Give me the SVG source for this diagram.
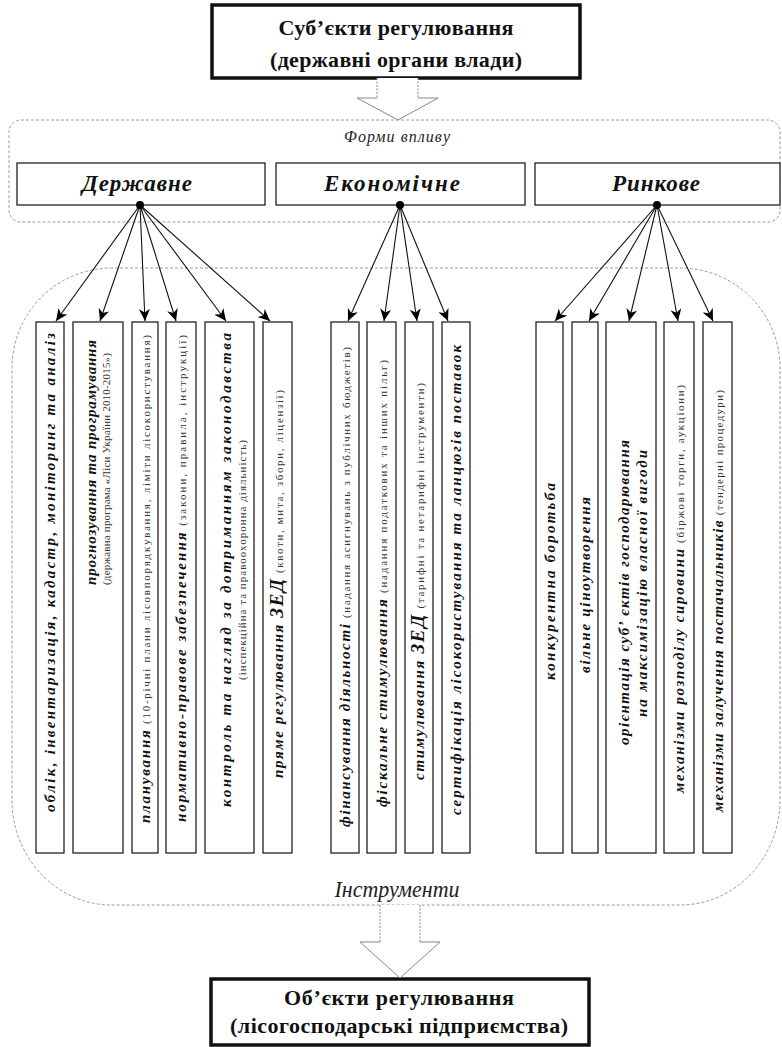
<svg xmlns="http://www.w3.org/2000/svg" width="782" height="1047" viewBox="0 0 782 1047">
<style>
.thick{fill:#fff;stroke:#111;stroke-width:3.5}
.box{fill:#fff;stroke:#222;stroke-width:1.3}
.form{fill:#fff;stroke:#222;stroke-width:1.3}
.region{fill:none;stroke:#9a9a9a;stroke-width:1;stroke-dasharray:3 2}
.hollow{fill:#fff;stroke:none}
.hs{fill:none;stroke:#888;stroke-width:1;stroke-dasharray:2 1.5}
.hh{fill:none;stroke:#888;stroke-width:1}
.conn{stroke:#111;stroke-width:1.1;fill:none}
.dot{fill:#000}
.t{font-family:"Liberation Serif","Times New Roman",serif;fill:#111}
.bi{font-weight:bold;font-style:italic;font-size:15px}
.rg{font-weight:normal;font-style:normal;font-size:11px;fill:#333}
.zed{font-weight:bold;font-style:italic;font-size:19px}
.head{font-family:"Liberation Serif","Times New Roman",serif;font-weight:bold;font-size:22px;fill:#111}
.form-t{font-family:"Liberation Serif","Times New Roman",serif;font-weight:bold;font-style:italic;font-size:23px;fill:#111}
.lab{font-family:"Liberation Serif","Times New Roman",serif;font-style:italic;fill:#222}
</style>
<defs>
<marker id="ah" markerUnits="userSpaceOnUse" markerWidth="13" markerHeight="11" refX="12" refY="5.5" orient="auto">
<path d="M0,0 L12,5.5 L0,11 L3.5,5.5 Z" fill="#000"/>
</marker>
</defs>

<!-- regions -->
<g id="forms-region">
<rect class="region" x="9" y="120" width="771" height="102" rx="12" ry="12"/>
<text class="lab" x="397" y="142" font-size="16" text-anchor="middle" textLength="106" lengthAdjust="spacing">Форми  впливу</text>
</g>
<g id="instruments-region">
<path class="region" d="M110,268 H680 A100,100 0 0 1 780,368 V800 A100,105 0 0 1 680,905 H110 A100,105 0 0 1 12,800 V368 A100,100 0 0 1 110,268 Z"/>
<text class="lab" x="397" y="897" font-size="23" text-anchor="middle" textLength="125" lengthAdjust="spacingAndGlyphs">Інструменти</text>
</g>

<!-- subject / object -->
<g id="subjects">
<rect class="thick" x="212" y="5" width="368" height="73"/>
<text class="head" x="396" y="35" text-anchor="middle" textLength="235" lengthAdjust="spacing">Суб’єкти регулювання</text>
<text class="head" x="396" y="67" text-anchor="middle" textLength="252" lengthAdjust="spacing">(державні органи влади)</text>
</g>
<g id="objects">
<rect class="thick" x="211" y="979" width="378" height="66"/>
<text class="head" x="399" y="1005" text-anchor="middle" textLength="230" lengthAdjust="spacing">Об’єкти регулювання</text>
<text class="head" x="399" y="1033" text-anchor="middle" textLength="338" lengthAdjust="spacing">(лісогосподарські підприємства)</text>
</g>

<!-- forms -->
<g id="f-derzh">
<rect class="form" x="17" y="163" width="248" height="42"/>
<text class="form-t" x="137" y="191" text-anchor="middle" textLength="110" lengthAdjust="spacing">Державне</text>
</g>
<g id="f-econ">
<rect class="form" x="276" y="163" width="249" height="42"/>
<text class="form-t" x="392" y="191" text-anchor="middle" textLength="136" lengthAdjust="spacing">Економічне</text>
</g>
<g id="f-market">
<rect class="form" x="535" y="163" width="245" height="42"/>
<text class="form-t" x="656" y="191" text-anchor="middle" textLength="88" lengthAdjust="spacing">Ринкове</text>
</g>

<!-- instruments -->
<g id="i1">
<rect class="box" x="36" y="322" width="28" height="531"/>
<text class="t bi" transform="translate(55,572.5) rotate(-90)" text-anchor="middle" textLength="479" lengthAdjust="spacing">облік, інвентаризація,  кадастр, моніторинг  та аналіз</text>
</g>
<g id="i2">
<rect class="box" x="73" y="322" width="50" height="531"/>
<text class="t bi" transform="translate(96,585) rotate(-90)" textLength="245" lengthAdjust="spacing">прогнозування та програмування</text>
<text class="t rg" transform="translate(110,585) rotate(-90)" textLength="232" lengthAdjust="spacing">(державна програма «Ліси України 2010-2015»)</text>
</g>
<g id="i3">
<rect class="box" x="132" y="322" width="26" height="531"/>
<text class="t" transform="translate(150,579) rotate(-90)" text-anchor="middle" textLength="488" lengthAdjust="spacing"><tspan class="bi">планування</tspan><tspan class="rg">  (10-річні плани лісовпорядкування, ліміти лісокористування)</tspan></text>
</g>
<g id="i4">
<rect class="box" x="166" y="322" width="30" height="531"/>
<text class="t" transform="translate(186,578.5) rotate(-90)" text-anchor="middle" textLength="487" lengthAdjust="spacing"><tspan class="bi">нормативно-правове  забезпечення</tspan><tspan class="rg"> (закони, правила, інструкції)</tspan></text>
</g>
<g id="i5">
<rect class="box" x="205" y="322" width="49" height="531"/>
<text class="t bi" transform="translate(231,570) rotate(-90)" text-anchor="middle" textLength="474" lengthAdjust="spacing">контроль та нагляд за дотриманням  законодавства</text>
<text class="t rg" transform="translate(246,560) rotate(-90)" text-anchor="middle" textLength="240" lengthAdjust="spacing">(інспекційна та правоохоронна діяльність)</text>
</g>
<g id="i6">
<rect class="box" x="263" y="322" width="29" height="531"/>
<text class="t" transform="translate(283,584) rotate(-90)" text-anchor="middle" textLength="388" lengthAdjust="spacing"><tspan class="bi">пряме  регулювання  </tspan><tspan class="zed">ЗЕД</tspan><tspan class="rg">  (квоти, мита, збори, ліцензії)</tspan></text>
</g>
<g id="i7">
<rect class="box" x="331" y="322" width="28" height="531"/>
<text class="t" transform="translate(350,587) rotate(-90)" text-anchor="middle" textLength="480" lengthAdjust="spacing"><tspan class="bi">фінансування  діяльності</tspan><tspan class="rg"> (надання асигнувань з публічних бюджетів)</tspan></text>
</g>
<g id="i8">
<rect class="box" x="367" y="322" width="29" height="531"/>
<text class="t" transform="translate(387,583.5) rotate(-90)" text-anchor="middle" textLength="447" lengthAdjust="spacing"><tspan class="bi">фіскальне стимулювання</tspan><tspan class="rg">  (надання податкових та інших пільг)</tspan></text>
</g>
<g id="i9">
<rect class="box" x="405" y="322" width="28" height="531"/>
<text class="t" transform="translate(424,581.5) rotate(-90)" text-anchor="middle" textLength="397" lengthAdjust="spacing"><tspan class="bi">стимулювання  </tspan><tspan class="zed">ЗЕД</tspan><tspan class="rg"> (тарифні та нетарифні інструменти)</tspan></text>
</g>
<g id="i10">
<rect class="box" x="442" y="322" width="28" height="531"/>
<text class="t bi" transform="translate(461,580) rotate(-90)" text-anchor="middle" textLength="470" lengthAdjust="spacing">сертифікація  лісокористування  та ланцюгів поставок</text>
</g>
<g id="i11">
<rect class="box" x="536" y="322" width="27" height="531"/>
<text class="t bi" transform="translate(555,581.5) rotate(-90)" text-anchor="middle" textLength="197" lengthAdjust="spacing">конкурентна  боротьба</text>
</g>
<g id="i12">
<rect class="box" x="572" y="322" width="26" height="531"/>
<text class="t bi" transform="translate(590,585) rotate(-90)" text-anchor="middle" textLength="176" lengthAdjust="spacing">вільне ціноутворення</text>
</g>
<g id="i13">
<rect class="box" x="606" y="322" width="50" height="531"/>
<text class="t bi" transform="translate(629,592.5) rotate(-90)" text-anchor="middle" textLength="305" lengthAdjust="spacing">орієнтація  суб’ єктів господарювання</text>
<text class="t bi" transform="translate(647,583.5) rotate(-90)" text-anchor="middle" textLength="267" lengthAdjust="spacing">на максимізацію  власної вигоди</text>
</g>
<g id="i14">
<rect class="box" x="664" y="322" width="30" height="531"/>
<text class="t" transform="translate(684,589) rotate(-90)" text-anchor="middle" textLength="408" lengthAdjust="spacing"><tspan class="bi">механізми розподілу сировини</tspan><tspan class="rg">  (біржові торги, аукціони)</tspan></text>
</g>
<g id="i15">
<rect class="box" x="703" y="322" width="29" height="531"/>
<text class="t" transform="translate(723,601) rotate(-90)" text-anchor="middle" textLength="422" lengthAdjust="spacing"><tspan class="bi">механізми залучення постачальників</tspan><tspan class="rg">  (тендерні процедури)</tspan></text>
</g>

<!-- connectors -->
<g id="connectors">
<path class="hollow" d="M377,78 V98 H357 L398,120 L438,98 H418 V78 Z"/>
<path class="hs" d="M377,78 V98 M418,78 V98"/>
<path class="hh" d="M377,98 H357 L398,120 L438,98 H418"/>
<path class="hollow" d="M380,905 V942 H360 L400,978 L440,942 H420 V905 Z"/>
<path class="hs" d="M380,905 V942 M420,905 V942"/>
<path class="hh" d="M380,942 H360 L400,978 L440,942 H420"/>
<g marker-end="url(#ah)">
<line class="conn" x1="140" y1="205" x2="56" y2="321"/>
<line class="conn" x1="140" y1="205" x2="100" y2="321"/>
<line class="conn" x1="140" y1="205" x2="145" y2="321"/>
<line class="conn" x1="140" y1="205" x2="176" y2="321"/>
<line class="conn" x1="140" y1="205" x2="226" y2="321"/>
<line class="conn" x1="140" y1="205" x2="270" y2="321"/>
<line class="conn" x1="400" y1="205" x2="348" y2="321"/>
<line class="conn" x1="400" y1="205" x2="384" y2="321"/>
<line class="conn" x1="400" y1="205" x2="417" y2="321"/>
<line class="conn" x1="400" y1="205" x2="448" y2="321"/>
<line class="conn" x1="657" y1="205" x2="555" y2="321"/>
<line class="conn" x1="657" y1="205" x2="589" y2="321"/>
<line class="conn" x1="657" y1="205" x2="629" y2="321"/>
<line class="conn" x1="657" y1="205" x2="678" y2="321"/>
<line class="conn" x1="657" y1="205" x2="713" y2="321"/>
</g>
<circle class="dot" cx="140" cy="205" r="4"/>
<circle class="dot" cx="400" cy="205" r="4"/>
<circle class="dot" cx="657" cy="205" r="4"/>
</g>
</svg>
